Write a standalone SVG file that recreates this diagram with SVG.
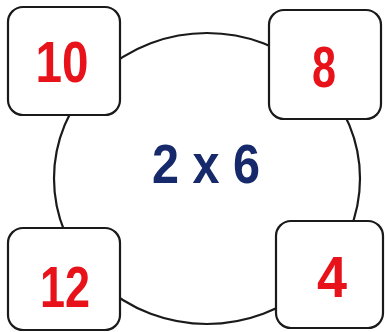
<svg xmlns="http://www.w3.org/2000/svg" width="385" height="332" viewBox="0 0 385 332">
<style>
.box{fill:#fff;stroke:#1a1a1a;stroke-width:2.2}
.ring{fill:#fff;stroke:#1a1a1a;stroke-width:2.2}
.num{font-family:"Liberation Sans",Arial,sans-serif;font-weight:bold;font-size:58px;fill:#e8121b;text-anchor:middle}
.mid{font-family:"Liberation Sans",Arial,sans-serif;font-weight:bold;font-size:56px;fill:#16296a;text-anchor:middle}
</style>
<rect width="385" height="332" fill="#fff"/>
<g id="connectors">
<ellipse class="ring" cx="207" cy="178.5" rx="153" ry="145.5"/>
</g>
<g id="center">
<text class="mid" x="206" y="183" textLength="108" lengthAdjust="spacingAndGlyphs">2 x 6</text>
</g>
<g id="n10">
<rect class="box" x="8" y="7" width="112" height="108" rx="15"/>
<text class="num" x="62" y="82" textLength="53" lengthAdjust="spacingAndGlyphs">10</text>
</g>
<g id="n8">
<rect class="box" x="269" y="10" width="112" height="109" rx="15"/>
<text class="num" x="324" y="87" textLength="24" lengthAdjust="spacingAndGlyphs">8</text>
</g>
<g id="n12">
<rect class="box" x="8" y="228" width="112" height="102" rx="15"/>
<text class="num" x="65" y="307" textLength="50" lengthAdjust="spacingAndGlyphs">12</text>
</g>
<g id="n4">
<rect class="box" x="276" y="221" width="107" height="107" rx="15"/>
<text class="num" x="332" y="297" textLength="30" lengthAdjust="spacingAndGlyphs">4</text>
</g>
</svg>
